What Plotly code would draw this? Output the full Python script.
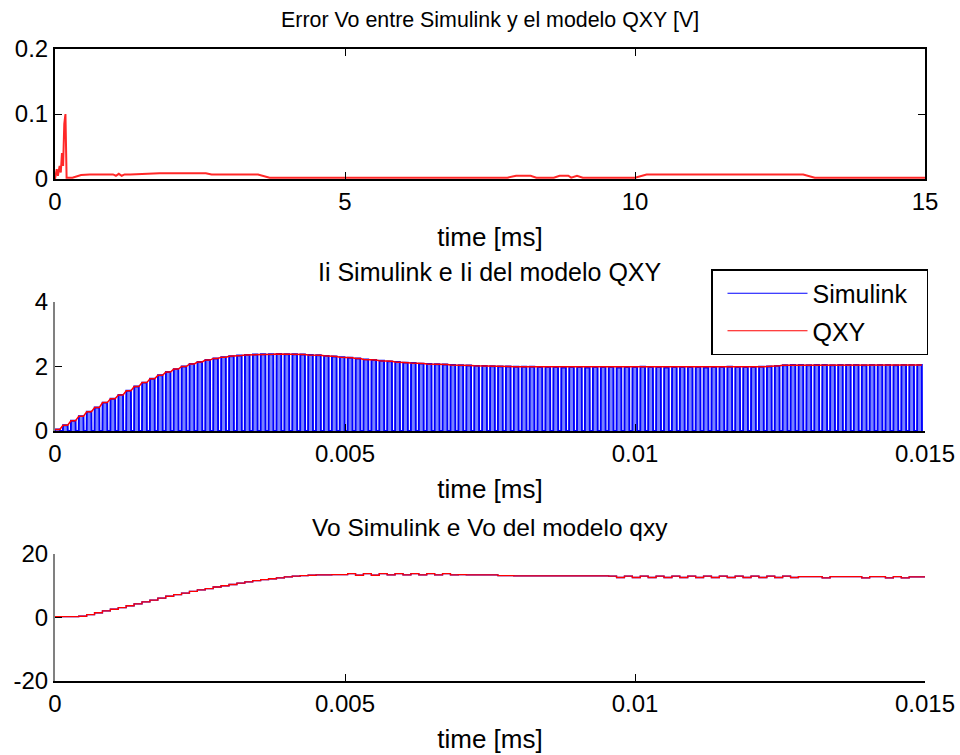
import plotly.graph_objects as go

W, H = 960, 755

# ---------------- data ----------------
# Top: error Vo (time in ms, error in V)
err_t = [0.0, 0.03, 0.05, 0.08, 0.10, 0.12, 0.14, 0.16, 0.18, 0.20, 0.30, 0.45, 0.60,
         1.00, 1.05, 1.10, 1.15, 1.20, 1.30, 1.80, 2.60, 2.70, 3.50, 3.70,
         7.80, 7.95, 8.20, 8.30, 8.60, 8.70, 8.85, 8.90, 9.00, 9.10,
         10.00, 10.20, 12.90, 13.10, 15.00]
err_v = [0.0, 0.015, 0.005, 0.02, 0.01, 0.04, 0.02, 0.085, 0.10, 0.002, 0.002, 0.006, 0.007,
         0.007, 0.005, 0.008, 0.005, 0.007, 0.007, 0.009, 0.009, 0.007, 0.007, 0.002,
         0.002, 0.005, 0.005, 0.002, 0.002, 0.005, 0.005, 0.002, 0.005, 0.002,
         0.002, 0.007, 0.007, 0.002, 0.002]

# Middle: per switching cycle peak of the input current Ii [A]
ii_peak = [0.05, 0.18, 0.32, 0.46, 0.60, 0.73, 0.88, 1.00, 1.12, 1.25,
           1.38, 1.50, 1.62, 1.73, 1.83, 1.92, 2.00, 2.08, 2.14, 2.20,
           2.25, 2.29, 2.32, 2.34, 2.36, 2.37, 2.38, 2.38, 2.39, 2.38,
           2.38, 2.37, 2.36, 2.35, 2.33, 2.31, 2.29, 2.27, 2.25, 2.22,
           2.20, 2.18, 2.16, 2.14, 2.12, 2.11, 2.09, 2.08, 2.07, 2.06,
           2.05, 2.04, 2.03, 2.02, 2.02, 2.01, 2.00, 2.00, 1.99, 1.99,
           1.99, 1.98, 1.98, 1.98, 1.97, 1.98, 1.98, 1.97, 1.98, 1.98,
           1.98, 1.97, 1.98, 1.98, 1.99, 1.98, 1.98, 1.97, 1.98, 1.98,
           1.98, 1.98, 1.97, 1.98, 1.98, 1.99, 1.98, 1.98, 1.98, 1.99,
           2.00, 2.02, 2.04, 2.05, 2.05, 2.04, 2.05, 2.05, 2.04, 2.05,
           2.05, 2.05, 2.04, 2.05, 2.05, 2.05, 2.04, 2.05, 2.05, 2.05]

# Bottom: per switching cycle output voltage Vo [V]
vo_step = [0.3, 0.3, 0.3, 0.4, 0.9, 1.5, 2.1, 2.6, 3.1, 3.7,
           4.3, 4.9, 5.5, 6.1, 6.7, 7.2, 7.7, 8.2, 8.7, 9.1,
           9.6, 10.0, 10.4, 10.8, 11.2, 11.6, 11.9, 12.2, 12.5, 12.8,
           13.0, 13.2, 13.3, 13.4, 13.4, 13.5, 13.5, 13.8, 13.3, 13.8,
           13.3, 13.8, 13.4, 13.8, 13.4, 13.8, 13.4, 13.8, 13.4, 13.8,
           13.4, 13.5, 13.4, 13.4, 13.4, 13.4, 13.2, 13.2, 13.1, 13.1,
           13.1, 13.1, 13.1, 13.1, 13.1, 13.1, 13.1, 13.1, 13.1, 13.1,
           13.0, 12.6, 13.0, 12.6, 13.0, 12.6, 13.0, 12.6, 13.0, 12.6,
           13.0, 12.6, 13.0, 12.6, 13.0, 12.6, 13.0, 12.6, 13.0, 12.6,
           13.0, 12.6, 13.0, 12.6, 12.9, 12.9, 12.9, 12.5, 12.9, 12.9,
           12.9, 12.9, 12.5, 12.9, 12.9, 12.5, 12.9, 12.5, 12.8, 12.8]

t_end = 0.015
n_cycles = len(ii_peak)
T = t_end / n_cycles

x_ticks_ms = [0, 5, 10, 15]
x_ticks_s = [0, 0.005, 0.01, 0.015]
x_tick_s_text = ["0", "0.005", "0.01", "0.015"]
y1_ticks = [0, 0.1, 0.2]
y2_ticks = [0, 2, 4]
y3_ticks = [-20, 0, 20]
y3_tick_text = ["-20", "0", "20"]

titles = ["Error Vo entre Simulink y el modelo QXY [V]",
          "Ii Simulink e Ii del modelo QXY",
          "Vo Simulink e Vo del modelo qxy"]
legend_names = ["Simulink", "QXY"]

# ---------------- build traces ----------------
sim_x, sim_y = [], []
qxy_x, qxy_y = [], []
for i, p in enumerate(ii_peak):
    t0 = i * T
    sim_x += [t0, t0 + 0.02 * T, t0 + 0.60 * T, t0 + 0.62 * T]
    sim_y += [0, p, p, 0]
    qxy_x += [t0 + 0.02 * T, t0 + 0.60 * T]
    qxy_y += [p, p]

vo_x = [i * T for i in range(len(vo_step))] + [t_end]
vo_y = vo_step + [vo_step[-1]]

fig = go.Figure()
fig.add_trace(go.Scatter(x=err_t, y=err_v, mode="lines",
                         line=dict(color="rgb(255,40,40)", width=2),
                         xaxis="x", yaxis="y", showlegend=False))
fig.add_trace(go.Scatter(x=sim_x, y=sim_y, mode="lines",
                         line=dict(color="rgb(0,0,255)", width=1.9),
                         fill="tozeroy", fillcolor="rgb(120,130,255)",
                         xaxis="x2", yaxis="y2", showlegend=False))
fig.add_trace(go.Scatter(x=qxy_x, y=qxy_y, mode="lines",
                         line=dict(color="red", width=1.5),
                         xaxis="x2", yaxis="y2", showlegend=False))
# legend entries (line samples only)
fig.add_trace(go.Scatter(x=[None], y=[None], mode="lines",
                         name=legend_names[0] + "\u00a0\u00a0",
                         line=dict(color="rgb(0,0,255)", width=1.2),
                         xaxis="x2", yaxis="y2", legendgroup="a"))
fig.add_trace(go.Scatter(x=[None], y=[None], mode="lines", name=legend_names[1],
                         line=dict(color="red", width=1.2),
                         xaxis="x2", yaxis="y2", legendgroup="b"))
fig.add_trace(go.Scatter(x=vo_x, y=vo_y, mode="lines", line_shape="hv",
                         line=dict(color="blue", width=1.3),
                         xaxis="x3", yaxis="y3", showlegend=False))
fig.add_trace(go.Scatter(x=vo_x, y=vo_y, mode="lines", line_shape="hv",
                         line=dict(color="red", width=1.3),
                         xaxis="x3", yaxis="y3", showlegend=False))

# ---------------- layout ----------------
FONT = "Liberation Sans, Arial, sans-serif"
TICK_FS = 24
LAB_FS = 26
LEG_FS = 25

def ydom(top_px, bot_px):
    return [1 - bot_px / H, 1 - top_px / H]

xdom = [55 / W, 925 / W]
common_x = dict(domain=xdom, ticks="inside", ticklen=7, tickcolor="black",
                showgrid=False, zeroline=False, showline=True, linecolor="black",
                linewidth=1.5, tickfont=dict(size=TICK_FS, color="black", family=FONT),
                fixedrange=True, automargin=False)
common_y = dict(ticks="inside", ticklen=7, tickcolor="black", showgrid=False,
                zeroline=False, showline=True, linewidth=2,
                tickfont=dict(size=TICK_FS, color="black", family=FONT),
                fixedrange=True, automargin=False)

axis_title = dict(text="time [ms]", font=dict(size=LAB_FS, color="black", family=FONT), standoff=14)

fig.update_layout(
    width=W, height=H, margin=dict(l=0, r=0, t=0, b=0, autoexpand=False),
    paper_bgcolor="white", plot_bgcolor="white",
    font=dict(family=FONT, size=LAB_FS, color="black"),
    xaxis=dict(common_x, range=[0, 15], tickvals=x_ticks_ms, anchor="y",
               mirror="ticks", title=axis_title),
    yaxis=dict(common_y, domain=ydom(49, 179), range=[0, 0.2], tickvals=y1_ticks,
               linecolor="black", mirror="ticks", anchor="x"),
    xaxis2=dict(common_x, range=[0, t_end], tickvals=x_ticks_s, ticktext=x_tick_s_text,
                anchor="y2", title=axis_title),
    yaxis2=dict(common_y, domain=ydom(302, 431), range=[0, 4], tickvals=y2_ticks,
                linecolor="rgb(128,128,128)", anchor="x2"),
    xaxis3=dict(common_x, range=[0, t_end], tickvals=x_ticks_s, ticktext=x_tick_s_text,
                anchor="y3", title=axis_title),
    yaxis3=dict(common_y, domain=ydom(554, 681), range=[-20, 20], tickvals=y3_ticks,
                ticktext=y3_tick_text, linecolor="rgb(128,128,128)", anchor="x3"),
    legend=dict(x=711 / W, y=1 - 269 / H, xanchor="left", yanchor="top",
                bgcolor="white", bordercolor="black", borderwidth=1.5,
                font=dict(size=LEG_FS, family=FONT, color="black"),
                itemwidth=80, tracegroupgap=2, traceorder="grouped", indentation=10),
    showlegend=True,
)

title_specs = [(titles[0], 20, 21.4), (titles[1], 272, 25), (titles[2], 527, 24.5)]
for txt, ypx, fs in title_specs:
    fig.add_annotation(text=txt, x=490 / W, y=1 - ypx / H, xref="paper", yref="paper",
                       xanchor="center", yanchor="middle", showarrow=False,
                       font=dict(size=fs, family=FONT, color="black"))

fig.write_html("out.html")
